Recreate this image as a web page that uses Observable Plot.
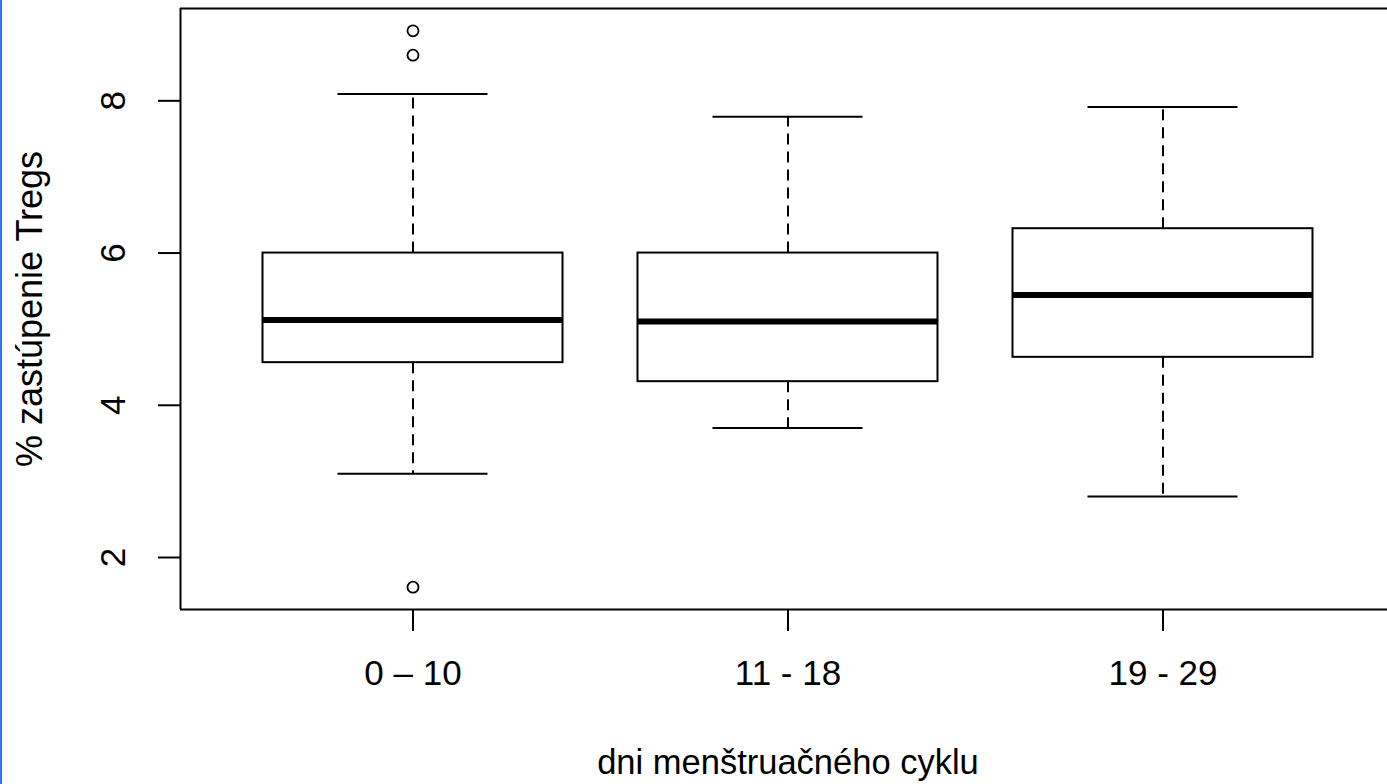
<!DOCTYPE html>
<html>
<head>
<meta charset="utf-8">
<script src="https://cdn.jsdelivr.net/npm/d3@7"></script>
<script src="https://cdn.jsdelivr.net/npm/@observablehq/plot@0.6"></script>
<style>
  html, body { margin: 0; padding: 0; background: #fff; overflow: hidden; }
  #wrap { position: relative; width: 1387px; height: 784px; }
  #edge { position: absolute; left: 0; top: 0; width: 2px; height: 784px; background: #2f78e6; }
  svg { display: block; }
</style>
</head>
<body>
<div id="wrap"><div id="chart"></div><div id="edge"></div></div>
<script>
// ---- data ----
const groups = ["0 – 10", "11 - 18", "19 - 29"];
const lowerWhisker = [3.1, 3.7, 2.8];
const q1 = [4.56, 4.31, 4.63];
const median = [5.12, 5.1, 5.45];
const q3 = [6.0, 6.0, 6.32];
const upperWhisker = [8.09, 7.79, 7.92];
const outlierGroup = [1, 1, 1];
const outlierValue = [8.92, 8.6, 1.61];
const yTicks = [2, 4, 6, 8];
const xLabel = "dni menštruačného cyklu";
const yLabel = "% zastúpenie Tregs";

// ---- tables ----
const boxes = groups.map((g, i) => ({
  pos: i + 1, label: g,
  lo: lowerWhisker[i], q1: q1[i], med: median[i], q3: q3[i], hi: upperWhisker[i]
}));
const outliers = outlierValue.map((v, i) => ({pos: outlierGroup[i], v}));

const xDomain = [0.38, 3.5987];
const yDomain = [1.317, 9.213];
const fs = 35;
const font = "'Liberation Sans', Arial, sans-serif";

const chart = Plot.plot({
  width: 1387,
  height: 784,
  marginLeft: 180,
  marginRight: 0,
  marginTop: 8,
  marginBottom: 175,
  style: {fontFamily: font, background: "white", color: "black"},
  x: {domain: xDomain, axis: null},
  y: {domain: yDomain, axis: null},
  marks: [
    // plot frame (top, bottom, left)
    Plot.ruleY([yDomain[1], yDomain[0]], {stroke: "black", strokeWidth: 2}),
    Plot.ruleX([xDomain[0]], {stroke: "black", strokeWidth: 2}),
    // y ticks
    Plot.axisY({ticks: yTicks, tickSize: 22, tickFormat: () => "", strokeWidth: 2, label: null}),
    Plot.text(yTicks, {y: d => d, text: d => String(d), frameAnchor: "left", textAnchor: "middle",
      dx: -67, rotate: -90, fontSize: fs, fill: "black"}),
    // x ticks
    Plot.axisX({ticks: boxes.map(d => d.pos), tickSize: 22, tickFormat: () => "", strokeWidth: 2, label: null}),
    Plot.text(boxes, {x: "pos", text: "label", frameAnchor: "bottom", textAnchor: "middle",
      dy: 75, fontSize: fs, fill: "black"}),
    // whiskers
    Plot.ruleX(boxes, {x: "pos", y1: "q3", y2: "hi", stroke: "black", strokeWidth: 2, strokeDasharray: "11,7"}),
    Plot.ruleX(boxes, {x: "pos", y1: "q1", y2: "lo", stroke: "black", strokeWidth: 2, strokeDasharray: "11,7"}),
    // staples
    Plot.ruleY(boxes, {y: "hi", x1: d => d.pos - 0.2, x2: d => d.pos + 0.2, stroke: "black", strokeWidth: 2}),
    Plot.ruleY(boxes, {y: "lo", x1: d => d.pos - 0.2, x2: d => d.pos + 0.2, stroke: "black", strokeWidth: 2}),
    // boxes
    Plot.rect(boxes, {x1: d => d.pos - 0.4, x2: d => d.pos + 0.4, y1: "q1", y2: "q3",
      fill: "white", stroke: "black", strokeWidth: 2}),
    // medians
    Plot.ruleY(boxes, {y: "med", x1: d => d.pos - 0.4, x2: d => d.pos + 0.4, stroke: "black", strokeWidth: 6}),
    // outliers
    Plot.dot(outliers, {x: "pos", y: "v", r: 5.5, stroke: "black", strokeWidth: 1.8, fill: "none"}),
    // axis titles
    Plot.text([xLabel], {x: () => 2, text: d => d, frameAnchor: "bottom", textAnchor: "middle",
      dy: 164, fontSize: 34.5, fill: "black"}),
    Plot.text([yLabel], {text: d => d, frameAnchor: "left", textAnchor: "middle",
      dx: -150, rotate: -90, fontSize: 36, fill: "black"})
  ]
});
document.getElementById("chart").appendChild(chart);
</script>
</body>
</html>
